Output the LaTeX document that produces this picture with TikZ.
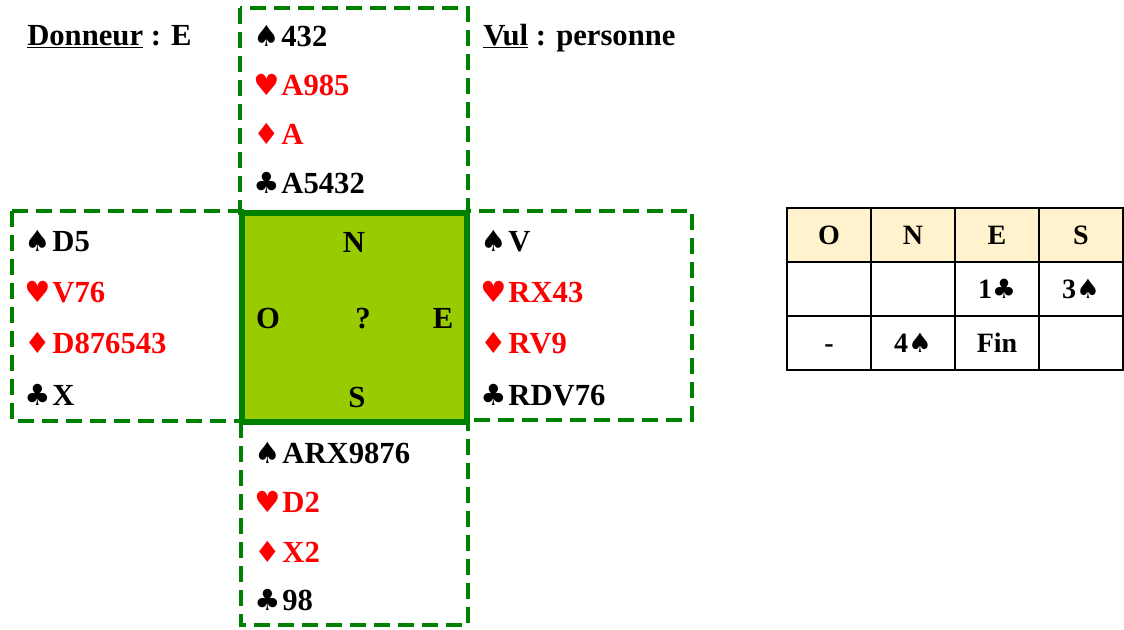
\documentclass[tikz,border=0pt]{standalone}
\usepackage{fontspec}
\setmainfont{Liberation Serif}
\newfontfamily\suitfont{DejaVu Sans}[Scale=0.95]
\definecolor{tapisvert}{HTML}{008000}
\definecolor{tapisfond}{HTML}{99CC00}
\definecolor{cartrouge}{HTML}{FF0000}
\definecolor{entete}{HTML}{FFF2CC}
\newcommand{\pique}{{\suitfont ♠}\hspace{1.5pt}}
\newcommand{\coeur}{{\suitfont ♥}\hspace{1.5pt}}
\newcommand{\carreau}{{\suitfont ♦}\hspace{1.5pt}}
\newcommand{\trefle}{{\suitfont ♣}\hspace{1.5pt}}
\begin{document}
\begin{tikzpicture}[x=0.75pt, y=-0.75pt,
      every node/.style={font=\fontsize{23}{27}\selectfont\bfseries, inner sep=0pt},
      main/.style={anchor=base west},
      rouge/.style={main, text=cartrouge},
      joueur/.style={anchor=base},
      handbox/.style={draw=tapisvert, line width=3.5pt, dash pattern=on 12pt off 6pt},
      tapis/.style={draw=tapisvert, fill=tapisfond, line width=4.5pt,
        minimum width=168.75pt, minimum height=156.75pt},
      cell/.style={draw, line width=1.5pt, minimum width=63pt, minimum height=40.5pt,
        text height=14pt, text depth=0pt, font=\fontsize{21}{25}\selectfont\bfseries},
    ]
    \useasboundingbox (0,0) rectangle (1124,629);

    % Cadres des mains
    \draw[handbox] (240,8) rectangle (468,213);
    \draw[handbox] (12,211) rectangle (242,421);
    \draw[handbox] (467,211) rectangle (692,420);
    \draw[handbox] (241,422) rectangle (468,625);

    % Tapis central
    \node[tapis] (table) at (354.5,317.5) {};
    \node[joueur] (posN) at (354,252) {N};
    \node[joueur] (posO) at (268,328) {O};
    \node[joueur] (posQ) at (363,328) {?};
    \node[joueur] (posE) at (443,328) {E};
    \node[joueur] (posS) at (357,407) {S};

    % Donneur et vulnerabilite
    \node[main] (donneur) at (27,45) {\underline{Donneur} : E};
    \node[main] (vul) at (483,45) {\underline{Vul} : personne};

    % Nord
    \node[main]  (nP) at (253,46)  {\pique 432};
    \node[rouge] (nC) at (253,95)  {\coeur A985};
    \node[rouge] (nK) at (253,144) {\carreau A};
    \node[main]  (nT) at (253,193) {\trefle A5432};

    % Ouest
    \node[main]  (oP) at (24,251) {\pique D5};
    \node[rouge] (oC) at (24,302) {\coeur V76};
    \node[rouge] (oK) at (24,353) {\carreau D876543};
    \node[main]  (oT) at (24,405) {\trefle X};

    % Est
    \node[main]  (eP) at (480,251) {\pique V};
    \node[rouge] (eC) at (480,302) {\coeur RX43};
    \node[rouge] (eK) at (480,353) {\carreau RV9};
    \node[main]  (eT) at (480,405) {\trefle RDV76};

    % Sud
    \node[main]  (sP) at (254,463) {\pique ARX9876};
    \node[rouge] (sC) at (254,512) {\coeur D2};
    \node[rouge] (sK) at (254,562) {\carreau X2};
    \node[main]  (sT) at (254,610) {\trefle 98};

    % Encheres
    \node[cell, fill=entete] (hO) at (829,235) {O};
    \node[cell, fill=entete] (hN) at (913,235) {N};
    \node[cell, fill=entete] (hE) at (997,235) {E};
    \node[cell, fill=entete] (hS) at (1081,235) {S};
    \node[cell] (a1) at (829,289) {};
    \node[cell] (a2) at (913,289) {};
    \node[cell] (a3) at (997,289) {1\trefle};
    \node[cell] (a4) at (1081,289) {3\pique};
    \node[cell] (b1) at (829,343) {-};
    \node[cell] (b2) at (913,343) {4\pique};
    \node[cell] (b3) at (997,343) {Fin};
    \node[cell] (b4) at (1081,343) {};
  \end{tikzpicture}
\end{document}
